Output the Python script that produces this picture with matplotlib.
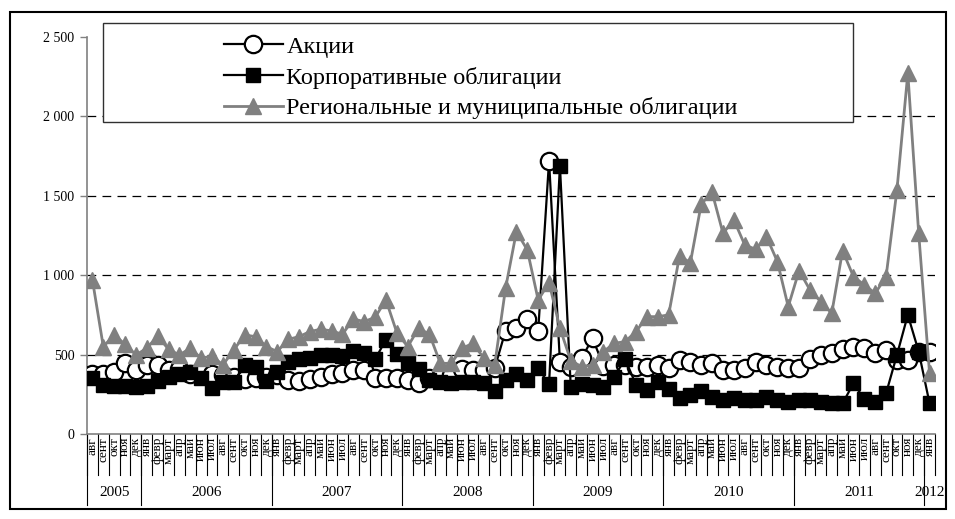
import matplotlib
matplotlib.use("Agg")
import matplotlib.pyplot as plt
from matplotlib.patches import Rectangle
import numpy as np

plt.rcParams['font.family'] = ['Liberation Serif', 'DejaVu Serif']

months = ["авг", "сент", "окт", "ноя", "дек",
          "янв", "февр", "март", "апр", "май", "июн", "июл", "авг", "сент", "окт", "ноя", "дек",
          "янв", "февр", "март", "апр", "май", "июн", "июл", "авг", "сент", "окт", "ноя", "дек",
          "янв", "февр", "март", "апр", "май", "июн", "июл", "авг", "сент", "окт", "ноя", "дек",
          "янв", "февр", "март", "апр", "май", "июн", "июл", "авг", "сент", "окт", "ноя", "дек",
          "янв", "февр", "март", "апр", "май", "июн", "июл", "авг", "сент", "окт", "ноя", "дек",
          "янв", "февр", "март", "апр", "май", "июн", "июл", "авг", "сент", "окт", "ноя", "дек",
          "янв"]
years = ["2005", "2006", "2007", "2008", "2009", "2010", "2011", "2012"]
year_counts = [5, 12, 12, 12, 12, 12, 12, 1]

stocks = [380, 375, 393, 450, 400, 432, 432, 400, 410, 380, 385, 375, 370, 360, 345, 350, 360,
          370, 340, 335, 345, 362, 375, 385, 405, 400, 355, 353, 353, 340, 320, 350, 360,
          370, 412, 403, 400, 415, 650, 665, 725, 650, 1720, 455, 424, 477, 603, 430, 435,
          435, 420, 420, 435, 414, 466, 455, 435, 445, 400, 400, 414, 455, 435, 424, 414,
          414, 470, 500, 510, 535, 550, 540, 508, 529, 465, 466, 515, 519]
corporate = [350, 310, 305, 305, 298, 305, 335, 360, 378, 390, 350, 292, 325, 325, 435, 425, 332,
             392, 455, 470, 480, 495, 500, 490, 520, 510, 470, 595, 505, 445, 410, 340, 330,
             320, 330, 330, 320, 272, 340, 375, 340, 414, 314, 1690, 293, 314, 309, 293, 361,
             472, 309, 277, 330, 283, 225, 246, 272, 230, 214, 225, 214, 214, 235, 214, 204,
             214, 214, 204, 193, 193, 319, 220, 204, 256, 498, 750, 519, 193]
regional = [970, 550, 624, 565, 498, 540, 617, 533, 498, 540, 477, 491, 435, 529, 624, 613, 550,
            519, 596, 613, 645, 660, 649, 628, 724, 708, 735, 844, 638, 550, 666, 628, 445,
            445, 540, 571, 477, 435, 918, 1275, 1159, 844, 953, 666, 462, 424, 435, 519, 571,
            582, 645, 739, 739, 750, 1121, 1079, 1449, 1521, 1264, 1348, 1191, 1163, 1243, 1086, 802,
            1029, 907, 833, 760, 1155, 991, 939, 886, 991, 1537, 2272, 1264, 382]
labels = ["Акции", "Корпоративные облигации", "Региональные и муниципальные облигации"]
yticks = [0, 500, 1000, 1500, 2000, 2500]

W, H = 955, 519
fig = plt.figure(figsize=(W / 100, H / 100), dpi=100)
L, R, T, B = 87, 935, 37, 434
ax = fig.add_axes([L / W, (H - B) / H, (R - L) / W, (B - T) / H])

x = np.arange(len(months))
gray = "#808080"
ax.plot(x, stocks, color="black", lw=1.6, marker="o", ms=12.5, mfc="white", mec="black",
        mew=1.6, label=labels[0], zorder=3)
ax.plot(x, corporate, color="black", lw=1.6, marker="s", ms=10.5, mfc="black", mec="black",
        label=labels[1], zorder=4)
ax.plot(x, regional, color=gray, lw=2.0, marker="^", ms=12, mfc=gray, mec=gray,
        label=labels[2], zorder=5)

ax.set_xlim(-0.5, len(months) - 0.5)
ax.set_ylim(0, 2500)
ax.set_yticks(yticks)
ax.set_yticklabels([f"{v:,}".replace(",", " ") for v in yticks], fontsize=10)
ax.tick_params(axis="y", length=5, width=1, color=gray, pad=4, direction="out")
ax.set_xticks([])
for s in ["top", "right"]:
    ax.spines[s].set_visible(False)
for s in ["left", "bottom"]:
    ax.spines[s].set_color(gray)
    ax.spines[s].set_linewidth(1.2)

for v in yticks[1:-1]:
    ax.axhline(v, color="black", lw=0.9, ls=(0, (7, 5)), zorder=1)

trans = ax.get_xaxis_transform()
axh = B - T
m_len = 41 / axh
y_len = 71 / axh
for i, m in enumerate(months):
    ax.text(i, -3 / axh, m, rotation=90, ha="center", va="top", fontsize=9.5,
            transform=trans, clip_on=False)
for k in range(len(months) + 1):
    ax.plot([k - 0.5, k - 0.5], [0, -m_len], color="black", lw=0.8, transform=trans,
            clip_on=False)
start = 0
for yr, c in zip(years, year_counts):
    ax.plot([start - 0.5, start - 0.5], [0, -y_len], color="black", lw=0.8,
            transform=trans, clip_on=False)
    ax.text(start + (c - 1) / 2, -59 / axh, yr, ha="center", va="center", fontsize=11,
            transform=trans, clip_on=False)
    start += c

# legend box
lx0, lx1, ly0, ly1 = 103, 853, 23, 122
box = Rectangle(((lx0 - L) / (R - L), (B - ly1) / axh), (lx1 - lx0) / (R - L), (ly1 - ly0) / axh,
                transform=ax.transAxes, facecolor="white", edgecolor="#303030", lw=1.0,
                zorder=6, clip_on=False)
ax.add_patch(box)
leg = ax.legend(loc="center", bbox_to_anchor=((481 - L) / (R - L), (B - 77.5) / axh),
                frameon=False, fontsize=17.5, handlelength=2.4, handletextpad=0.15,
                labelspacing=0.35, borderpad=0.2)
leg.set_zorder(7)

fig.patches.append(Rectangle((10 / W, (H - 509) / H), 936 / W, 497 / H, transform=fig.transFigure,
                             fill=False, edgecolor="black", lw=1.5))

fig.savefig("out.png", dpi=100)
